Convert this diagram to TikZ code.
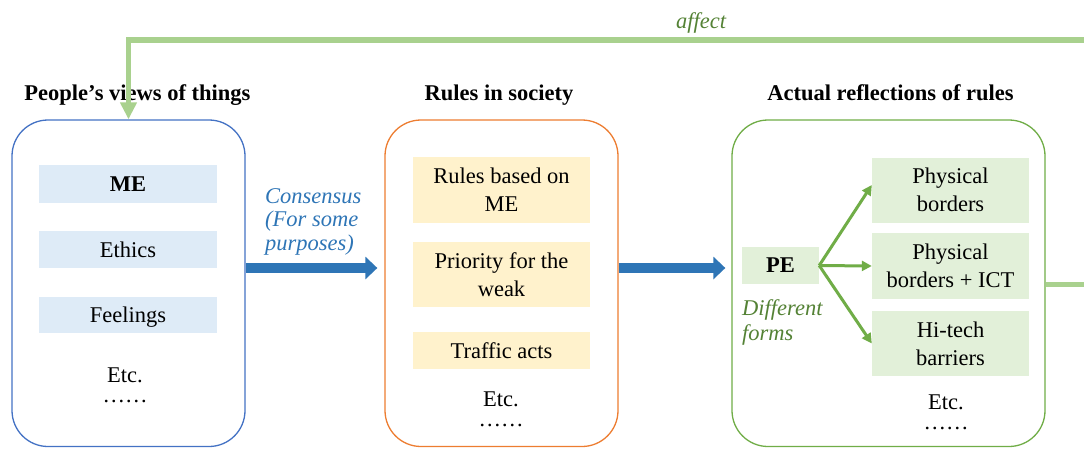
\documentclass[tikz,border=0pt]{standalone}
\usepackage{fontspec}
\setmainfont{Liberation Serif}
\usetikzlibrary{arrows.meta}

\definecolor{viewblue}{HTML}{4472C4}
\definecolor{ruleorange}{HTML}{ED7D31}
\definecolor{formgreen}{HTML}{70AD47}
\definecolor{fillblue}{HTML}{DEEBF7}
\definecolor{fillyellow}{HTML}{FFF2CC}
\definecolor{fillgreen}{HTML}{E2F0D9}
\definecolor{flowblue}{HTML}{2E75B6}
\definecolor{loopgreen}{HTML}{A9D18E}
\definecolor{labelgreen}{HTML}{548235}

\tikzset{
  every node/.style={font=\fontsize{22.5}{28}\selectfont, inner sep=0pt},
  panel/.style={draw, line width=1.3pt, rounded corners=36pt, fill=white},
  itembox/.style={align=center, text depth=0pt},
  heading/.style={font=\fontsize{22.5}{28}\selectfont\bfseries, anchor=base},
  etc/.style={anchor=north, align=center, font=\fontsize{22.5}{19.5}\selectfont},
  flowlabel/.style={font=\fontsize{22.5}{23.5}\selectfont\itshape, align=left, anchor=west},
  bigflow/.style={draw=flowblue, line width=10pt,
    -{Triangle[length=12pt,width=22pt]}, flowblue},
  branch/.style={draw=formgreen, line width=3pt,
    -{Triangle[length=10pt,width=10pt]}, formgreen},
  feedback/.style={draw=loopgreen, line width=5.5pt,
    -{Triangle[length=17pt,width=16pt]}, loopgreen},
}

\begin{document}
\begin{tikzpicture}[x=1pt,y=-1pt]
\useasboundingbox (0,0) rectangle (1084,448);
\clip (0,0) rectangle (1084,448);

% outer panels
\node[panel, draw=viewblue, minimum width=233pt, minimum height=326.5pt]
  (lbox) at (128.5,283.25) {};
\node[panel, draw=ruleorange, minimum width=233pt, minimum height=326.5pt]
  (mbox) at (501.5,283.25) {};
\node[panel, draw=formgreen, minimum width=313pt, minimum height=326.5pt]
  (rbox) at (888.5,283.25) {};

% headings
\node[heading] (lhead) at (137.5,100) {People’s views of things};
\node[heading] (mhead) at (499,100) {Rules in society};
\node[heading] (rhead) at (890.5,100) {Actual reflections of rules};

% people's views
\node[itembox, fill=fillblue, minimum width=178pt, minimum height=38pt, font=\fontsize{22.5}{28}\selectfont\bfseries]
  (me) at (128,184) {ME};
\node[itembox, fill=fillblue, minimum width=178pt, minimum height=37pt]
  (ethics) at (128,249.5) {Ethics};
\node[itembox, fill=fillblue, minimum width=178pt, minimum height=36pt]
  (feel) at (128,315) {Feelings};
\node[etc] (letc) at (125,368) {Etc.\\……};

% rules in society
\node[itembox, fill=fillyellow, minimum width=177pt, minimum height=66pt]
  (rme) at (501.5,190) {Rules based on\\ME};
\node[itembox, fill=fillyellow, minimum width=177pt, minimum height=65pt]
  (prio) at (501.5,274.5) {Priority for the\\weak};
\node[itembox, fill=fillyellow, minimum width=177pt, minimum height=37pt]
  (traffic) at (501.5,350.5) {Traffic acts};
\node[etc] (metc) at (501,392) {Etc.\\……};

% actual reflections
\node[itembox, fill=fillgreen, minimum width=77pt, minimum height=37pt, font=\fontsize{22.5}{28}\selectfont\bfseries]
  (pe) at (780.5,265.5) {PE};
\node[itembox, fill=fillgreen, minimum width=157pt, minimum height=65pt]
  (pb) at (950.5,190) {Physical\\borders};
\node[itembox, fill=fillgreen, minimum width=157pt, minimum height=66pt]
  (pbict) at (950.5,266) {Physical\\borders + ICT};
\node[itembox, fill=fillgreen, minimum width=157pt, minimum height=65pt]
  (hitech) at (950.5,343.5) {Hi-tech\\barriers};
\node[etc] (retc) at (946,395) {Etc.\\……};

% labels
\node[flowlabel, text=flowblue] (consensus) at (265,221.5)
  {Consensus\\(For some\\purposes)};
\node[flowlabel, text=labelgreen, font=\fontsize{22.5}{25}\selectfont\itshape]
  (forms) at (742,322) {Different\\forms};
\node[anchor=base, text=labelgreen, font=\fontsize{22.5}{28}\selectfont\itshape]
  (affect) at (701,28) {affect};

% main flow
\draw[bigflow, shorten >=7pt] (lbox.east |- 0,268) -- (mbox.west |- 0,268);
\draw[bigflow, shorten >=6pt] (mbox.east |- 0,268) -- (rbox.west |- 0,268);

% forms of PE
\draw[branch] (pe.east) -- ([yshift=5pt]pb.west);
\draw[branch] (pe.east) -- (pbict.west);
\draw[branch] (pe.east) -- (hitech.west);

% feedback loop
\coordinate (loopR) at (1095,284.5);
\coordinate (loopT) at (1095,40);
\coordinate (loopL) at (128.5,40);
\draw[feedback] (rbox.east |- loopR) -- (loopR) -- (loopT) -- (loopL) -- (lbox.north);
\end{tikzpicture}
\end{document}
